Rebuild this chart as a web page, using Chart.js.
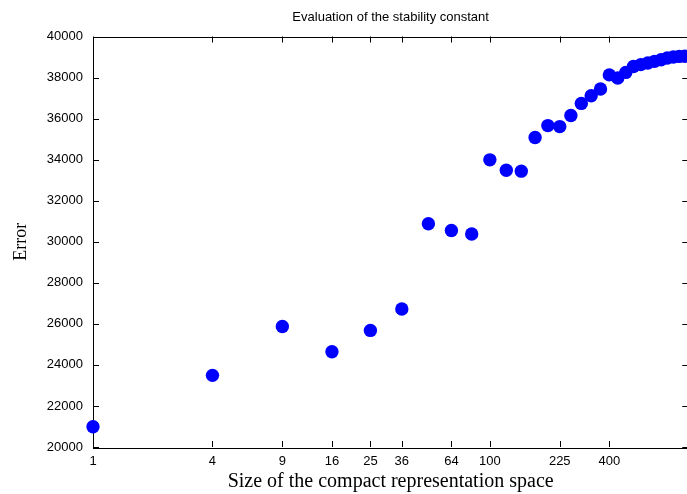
<!DOCTYPE html>
<html>
<head>
<meta charset="utf-8">
<script src="https://cdn.jsdelivr.net/npm/chart.js@4.4.1/dist/chart.umd.min.js"></script>
<style>
html, body { margin: 0; padding: 0; overflow: hidden; background: #fff; width: 687px; height: 494px; }
#wrap { position: relative; width: 695px; height: 494px; }
canvas { display: block; }
</style>
</head>
<body>
<div id="wrap"><canvas id="c" width="695" height="494"></canvas></div>
<script>
// ---- data ----
const sizes = [1, 4, 9, 16, 25, 36, 49, 64, 81, 100, 121, 144, 169, 196, 225, 256, 289, 324, 361, 400,
               441, 484, 529, 576, 625, 676, 729, 784, 841, 900, 961];
const errors = [20990, 23490, 25870, 24640, 25680, 26720, 30880, 30550, 30380, 33990, 33480, 33440, 35080, 35660, 35610, 36150, 36740, 37110, 37440, 38130,
                37980, 38250, 38540, 38630, 38710, 38790, 38870, 38950, 39000, 39030, 39040];
const xTickValues = [1, 4, 9, 16, 25, 36, 64, 100, 225, 400];
const yTickValues = [20000, 22000, 24000, 26000, 28000, 30000, 32000, 34000, 36000, 38000, 40000];
const chartTitle = 'Evaluation of the stability constant';
const xTitle = 'Size of the compact representation space';
const yTitle = 'Error';

const tickFont = { family: "'Liberation Sans', Arial, sans-serif", size: 13 };
const serifFont = { family: "'Liberation Serif', 'Times New Roman', serif", size: 20 };
const serifFontY = { family: "'Liberation Serif', 'Times New Roman', serif", size: 18 };

// inward tick marks + full frame, gnuplot style
const framePlugin = {
  id: 'frame',
  beforeDatasetsDraw(chart) {
    const { ctx, chartArea: a, scales } = chart;
    const L = 6;
    ctx.save();
    ctx.strokeStyle = '#000';
    ctx.lineWidth = 1;
    ctx.beginPath();
    for (const v of xTickValues) {
      const px = Math.round(scales.x.getPixelForValue(v)) + 0.5;
      ctx.moveTo(px, a.bottom); ctx.lineTo(px, a.bottom - L);
      ctx.moveTo(px, a.top); ctx.lineTo(px, a.top + L);
    }
    for (const v of yTickValues) {
      const py = Math.round(scales.y.getPixelForValue(v)) + 0.5;
      ctx.moveTo(a.left, py); ctx.lineTo(a.left + L, py);
      ctx.moveTo(a.right, py); ctx.lineTo(a.right - L, py);
    }
    ctx.stroke();
    ctx.strokeRect(Math.round(a.left) + 0.5, Math.round(a.top) + 0.5,
                   Math.round(a.right - a.left), Math.round(a.bottom - a.top));
    ctx.restore();
  }
};

new Chart(document.getElementById('c'), {
  type: 'scatter',
  data: {
    datasets: [{
      data: sizes.map((s, i) => ({ x: s, y: errors[i] })),
      backgroundColor: '#0000ff',
      borderColor: '#0000ff',
      borderWidth: 0,
      pointRadius: 6.7,
      pointHoverRadius: 6.7,
      clip: false
    }]
  },
  options: {
    responsive: false,
    animation: false,
    devicePixelRatio: 1,
    layout: { padding: { left: 0, right: 6, top: 0, bottom: 0 } },
    plugins: {
      legend: { display: false },
      tooltip: { enabled: false },
      title: {
        display: true,
        text: chartTitle,
        fullSize: false,
        color: '#000',
        font: { family: tickFont.family, size: 13, weight: 'normal' },
        padding: { top: 9.4, bottom: 11.5 }
      }
    },
    scales: {
      x: {
        type: 'logarithmic',
        min: 1,
        max: 1000,
        afterBuildTicks: s => { s.ticks = xTickValues.map(v => ({ value: v })); },
        afterFit: s => { s.height = 47; },
        ticks: {
          autoSkip: false,
          maxRotation: 0,
          color: '#000',
          font: tickFont,
          padding: 7,
          callback: v => String(v)
        },
        grid: { display: false, drawTicks: false },
        border: { display: false },
        title: {
          display: true,
          text: xTitle,
          color: '#000',
          font: serifFont,
          padding: { top: 0, bottom: 0 }
        }
      },
      y: {
        type: 'linear',
        min: 20000,
        max: 40000,
        afterBuildTicks: s => { s.ticks = yTickValues.map(v => ({ value: v })); },
        afterFit: s => { s.width = 93; },
        ticks: {
          color: '#000',
          font: tickFont,
          padding: 10,
          callback: v => String(v)
        },
        grid: { display: false, drawTicks: false },
        border: { display: false },
        title: {
          display: true,
          text: yTitle,
          color: '#000',
          font: serifFontY,
          padding: { top: 10, bottom: 0 }
        }
      }
    }
  },
  plugins: [framePlugin]
});
</script>
</body>
</html>
